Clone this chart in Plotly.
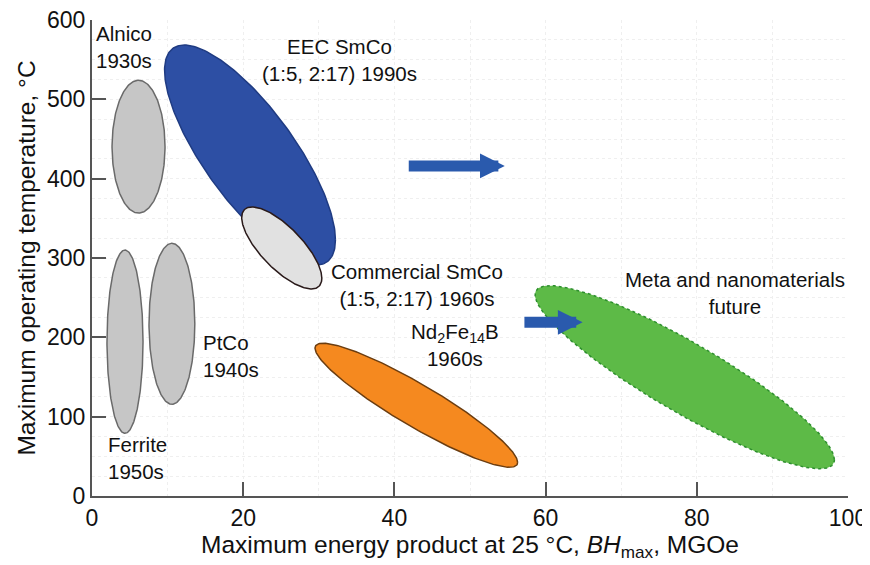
import numpy as np
import plotly.graph_objects as go

# ---- data: material regions (BHmax in MGOe, temperature in °C) ----
materials = ["Alnico", "Ferrite", "PtCo", "EEC SmCo", "Commercial SmCo", "Nd2Fe14B", "Meta"]
bh_min = [2.65, 1.98, 7.54, 9.6, 19.8, 29.5, 58.6]
bh_max = [9.66, 6.75, 13.6, 32.2, 30.4, 56.3, 98.2]
t_min = [356.6, 79.0, 115.7, 291.0, 261.0, 36.2, 34.3]
t_max = [524.0, 310.0, 318.5, 568.4, 364.4, 192.6, 265.1]
tilt = [0.0, 0.0, 0.0, -0.77, -0.74, -0.92, -0.90]

fills = ["#c6c6c6", "#c6c6c6", "#c6c6c6", "#2d4fa4", "#e1e1e1", "#f5891f", "#5dba47"]
edges = ["#6a6a6a", "#6a6a6a", "#6a6a6a", "#1f3b82", "#2a1a1a", "#6b3d10", "#2e8f2e"]
edge_dash = ["solid", "solid", "solid", "solid", "solid", "solid", "dot"]

# labels
label_text = ["Alnico<br>1930s", "EEC SmCo<br>(1:5, 2:17) 1990s", "Commercial SmCo<br>(1:5, 2:17) 1960s",
              "Nd<sub>2</sub>Fe<sub>14</sub>B<br>1960s", "PtCo<br>1940s", "Ferrite<br>1950s",
              "Meta and nanomaterials<br>future"]
label_x = [0.3, 32.8, 43.0, 48.0, 14.4, 1.9, 85.0]
label_y = [599.5, 584, 300, 224, 210, 82, 290]
label_anchor = ["left", "center", "center", "center", "left", "left", "center"]

# arrows (tail x, head x, y)
arrow_tail = [41.7, 57.0]
arrow_head = [54.6, 64.9]
arrow_y = [416, 219]

x_ticks = [0, 20, 40, 60, 80, 100]
y_ticks = [0, 100, 200, 300, 400, 500, 600]

fig = go.Figure()
t = np.linspace(0, 2 * np.pi, 240)
for i in range(len(materials)):
    cx = (bh_min[i] + bh_max[i]) / 2
    cy = (t_min[i] + t_max[i]) / 2
    hx = (bh_max[i] - bh_min[i]) / 2
    hy = (t_max[i] - t_min[i]) / 2
    r = tilt[i]
    xs = cx + hx * np.cos(t)
    ys = cy + hy * (r * np.cos(t) + np.sqrt(1 - r * r) * np.sin(t))
    fig.add_trace(go.Scatter(
        x=xs, y=ys, mode="lines", fill="toself", fillcolor=fills[i],
        line=dict(color=edges[i], width=1.5, dash=edge_dash[i]),
        hoverinfo="skip", showlegend=False, name=materials[i]))

fam = "Liberation Sans, Arial, sans-serif"
for i in range(len(label_text)):
    fig.add_annotation(x=label_x[i], y=label_y[i], text=label_text[i], showarrow=False,
                       xanchor=label_anchor[i], yanchor="top", align=label_anchor[i],
                       font=dict(family=fam, size=20.5, color="#111111"))

for i in range(len(arrow_tail)):
    fig.add_annotation(x=arrow_head[i], y=arrow_y[i], ax=arrow_tail[i], ay=arrow_y[i],
                       xref="x", yref="y", axref="x", ayref="y", text="", showarrow=True,
                       arrowhead=2, arrowwidth=11, arrowsize=0.45, arrowcolor="#2a5aad")

tick_font = dict(family=fam, size=23, color="#111111")
title_font = dict(family=fam, size=24.5, color="#111111")
fig.update_layout(
    width=862, height=557,
    margin=dict(l=84, r=22, t=12, b=69),
    paper_bgcolor="white", plot_bgcolor="white",
    font=tick_font,
    xaxis=dict(range=[0, 100], tickvals=x_ticks, ticks="inside", ticklen=14, tickwidth=2,
               tickcolor="#555555", showline=True, linecolor="#555555", linewidth=2,
               showgrid=True, gridcolor="#efefef", griddash="dot", gridwidth=1,
               minor=dict(dtick=10, showgrid=True, gridcolor="#efefef", griddash="dot"),
               zeroline=False, tickfont=tick_font, automargin=False, ticklabeloverflow="allow",
               title=dict(text="Maximum energy product at 25 °C, <i>BH</i><sub>max</sub>, MGOe",
                          font=title_font, standoff=4)),
    yaxis=dict(range=[0, 600], tickvals=y_ticks, ticks="inside", ticklen=14, tickwidth=2,
               tickcolor="#555555", showline=True, linecolor="#555555", linewidth=2,
               showgrid=True, gridcolor="#efefef", griddash="dot", gridwidth=1,
               minor=dict(dtick=25, showgrid=True, gridcolor="#efefef", griddash="dot"),
               zeroline=False, tickfont=tick_font, automargin=False, ticklabeloverflow="allow",
               title=dict(text="Maximum operating temperature, °C", font=title_font, standoff=4)),
)
fig.write_html("out.html")
